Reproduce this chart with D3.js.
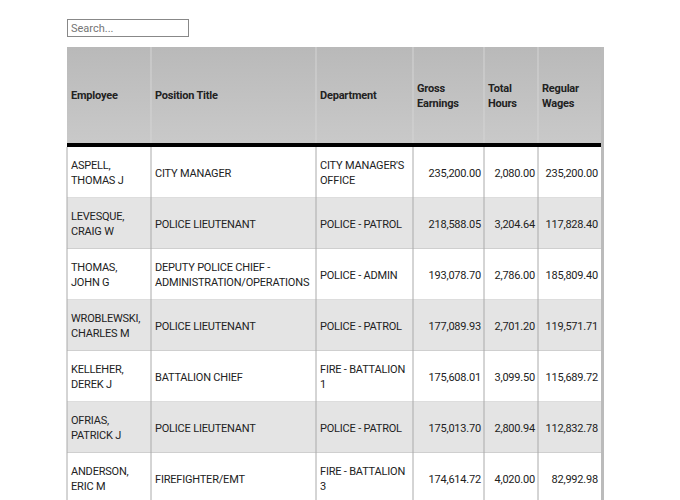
<!DOCTYPE html>
<html><head><meta charset="utf-8">
<script src="https://cdn.jsdelivr.net/npm/d3@7"></script>
<style>
body{margin:0;background:#fff;font-family:Roboto,"Liberation Sans",sans-serif;}
#search{position:absolute;left:67px;top:19px;width:114px;height:14px;border:1px solid #888;font-size:11px;padding:1px 3px;font-family:inherit;color:#444;}
</style></head><body>
<input id="search" placeholder="Search..." value="">
<div class="chart"></div>
<script>
// columns
var headers = ["Employee", "Position Title", "Department", "Gross\nEarnings", "Total\nHours", "Regular\nWages"];
var colWidths = [84, 165, 97, 71, 54, 63];
var numericCols = [3, 4, 5];

// rows
var employees = ["ASPELL,\nTHOMAS J", "LEVESQUE,\nCRAIG W", "THOMAS,\nJOHN G", "WROBLEWSKI,\nCHARLES M", "KELLEHER,\nDEREK J", "OFRIAS,\nPATRICK J", "ANDERSON,\nERIC M"];
var positions = ["CITY MANAGER", "POLICE LIEUTENANT", "DEPUTY POLICE CHIEF -\nADMINISTRATION/OPERATIONS", "POLICE LIEUTENANT", "BATTALION CHIEF", "POLICE LIEUTENANT", "FIREFIGHTER/EMT"];
var departments = ["CITY MANAGER'S\nOFFICE", "POLICE - PATROL", "POLICE - ADMIN", "POLICE - PATROL", "FIRE - BATTALION\n1", "POLICE - PATROL", "FIRE - BATTALION\n3"];
var grossEarnings = [235200.00, 218588.05, 193078.70, 177089.93, 175608.01, 175013.70, 174614.72];
var totalHours = [2080.00, 3204.64, 2786.00, 2701.20, 3099.50, 2800.94, 4020.00];
var regularWages = [235200.00, 117828.40, 185809.40, 119571.71, 115689.72, 112832.78, 82992.98];

var fmt = d3.format(",.2f");
var rows = employees.map(function(e, i) {
  return [e, positions[i], departments[i], fmt(grossEarnings[i]), fmt(totalHours[i]), fmt(regularWages[i])];
});

var left = 67, headTop = 47, headH = 96, lineH = 4, rowH = 51;
var tableW = d3.sum(colWidths);
var colX = [0];
colWidths.forEach(function(w, i) { colX.push(colX[i] + w); });

var y = d3.scaleBand().domain(d3.range(rows.length))
  .range([headTop + headH + lineH, headTop + headH + lineH + rowH * rows.length]);

var svg = d3.select(".chart").append("svg").attr("width", 680).attr("height", 500)
  .style("position", "absolute").style("left", 0).style("top", 0);
d3.select("#search").raise();

var defs = svg.append("defs");
var grad = defs.append("linearGradient").attr("id", "hg").attr("x1", 0).attr("x2", 0).attr("y1", 0).attr("y2", 1);
grad.append("stop").attr("offset", 0).attr("stop-color", "#b9b9b9");
grad.append("stop").attr("offset", 1).attr("stop-color", "#c9c9c9");

var g = svg.append("g").attr("transform", `translate(${left},0)`);

// header
g.append("rect").attr("x", 0).attr("y", headTop).attr("width", tableW).attr("height", headH).attr("fill", "url(#hg)");
g.append("rect").attr("x", 0).attr("y", headTop + headH).attr("width", tableW).attr("height", lineH).attr("fill", "#000");

function multiline(sel, text, x, yc, anchor, size, weight) {
  var lines = text.split("\n");
  var t = sel.append("text").attr("text-anchor", anchor).attr("font-size", size)
    .attr("font-weight", weight).attr("fill", "#222").attr("letter-spacing", -0.2);
  lines.forEach(function(l, k) {
    t.append("tspan").attr("x", x).attr("y", yc + (k - (lines.length - 1) / 2) * 15 + 4).text(l);
  });
}

headers.forEach(function(h, i) {
  if (i > 0) g.append("line").attr("x1", colX[i]).attr("x2", colX[i]).attr("y1", headTop).attr("y2", headTop + headH)
    .attr("stroke", "#d4d4d4");
  multiline(g, h, colX[i] + 4, headTop + headH / 2, "start", 11, "bold");
});

// body rows
rows.forEach(function(r, i) {
  var ry = y(i);
  g.append("rect").attr("x", 0).attr("y", ry).attr("width", tableW).attr("height", y.bandwidth())
    .attr("fill", i % 2 ? "#e4e4e4" : "#fff");
  g.append("line").attr("x1", 0).attr("x2", tableW).attr("y1", ry + rowH).attr("y2", ry + rowH).attr("stroke", "#bbb");
  r.forEach(function(c, j) {
    var num = numericCols.indexOf(j) >= 0;
    multiline(g, c, num ? colX[j + 1] - 3 : colX[j] + 4, ry + rowH / 2, num ? "end" : "start", 11, "normal");
  });
});

colX.forEach(function(x, i) {
  if (i === colX.length - 1) return;
  g.append("line").attr("x1", x).attr("x2", x).attr("y1", y(0)).attr("y2", 500).attr("stroke", "#aaa");
});
// right-edge shadow
g.append("rect").attr("x", tableW).attr("y", headTop).attr("width", 3).attr("height", 500 - headTop).attr("fill", "#bbb");
</script>
</body></html>
